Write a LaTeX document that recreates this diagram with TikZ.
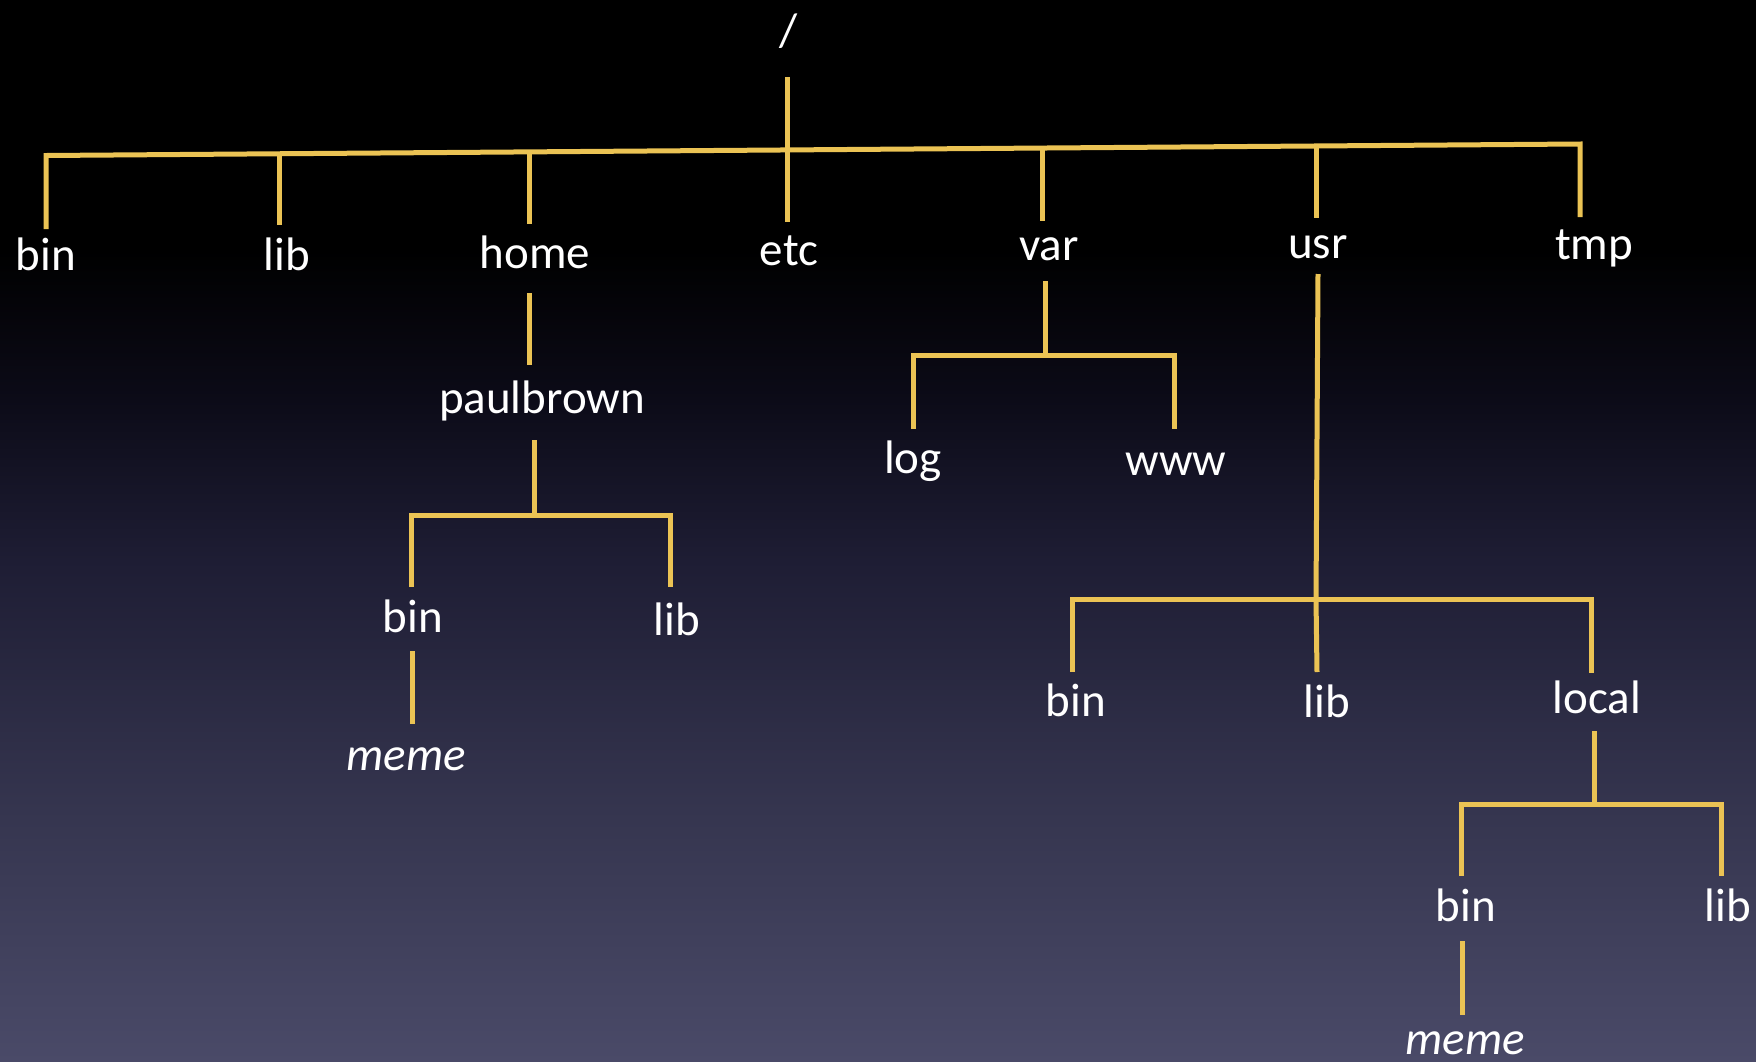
\documentclass[tikz,border=0pt]{standalone}
\usepackage{fontspec}
\setmainfont{Carlito}
\definecolor{linkyellow}{RGB}{235,195,84}
\definecolor{bgBottom}{RGB}{74,74,104}
\definecolor{bgLow}{RGB}{54,54,80}
\definecolor{bgMid}{RGB}{30,29,52}
\definecolor{bgHigh}{RGB}{12,11,24}
% background: black at the top, fading into slate blue at the bottom
\pgfdeclareverticalshading{bgshade}{100bp}{%
  color(0bp)=(bgBottom); color(25bp)=(bgBottom);
  color(36.36bp)=(bgLow); color(48.61bp)=(bgMid);
  color(56.15bp)=(bgHigh); color(63.22bp)=(black);
  color(100bp)=(black)}
\begin{document}
\begin{tikzpicture}[x=0.5pt,y=-0.5pt,
  lbl/.style={text=white,font=\fontsize{23.5}{28}\selectfont,inner sep=0pt,anchor=base},
  itlbl/.style={lbl,font=\fontsize{23.5}{28}\selectfont\itshape},
  link/.style={draw=linkyellow,line width=2.5pt,line join=miter,line cap=butt}]
\useasboundingbox (0,0) rectangle (1756,1061);
\shade[shading=bgshade] (0,0) rectangle (1756,1061);

% ---- labels ----
\node[text=white,font=\fontsize{23.5}{28}\selectfont,inner sep=0pt] (root) at (789,31) {/};

\node[lbl] (bin)  at (46,270)   {bin};
\node[lbl] (lib)  at (287,270)  {lib};
\node[lbl] (home) at (535,268)  {home};
\node[lbl] (etc)  at (789,265)  {etc};
\node[lbl] (var)  at (1049,260) {var};
\node[lbl] (usr)  at (1318,258) {usr};
\node[lbl] (tmp)  at (1594,259) {tmp};

\node[lbl] (paul) at (542,413) {paulbrown};
\node[lbl] (pbin) at (413,632) {bin};
\node[lbl] (plib) at (677,635) {lib};
\node[itlbl] (pmeme) at (406,770) {meme};

\node[lbl] (log) at (913,473)  {log};
\node[lbl] (www) at (1176,475) {www};

\node[lbl] (ubin)   at (1076,716) {bin};
\node[lbl] (ulib)   at (1327,717) {lib};
\node[lbl] (local)  at (1597,713) {local};
\node[lbl] (lbin)   at (1466,921) {bin};
\node[lbl] (llib)   at (1728,921) {lib};
\node[itlbl] (lmeme) at (1465,1054) {meme};

% ---- line end points ----
\coordinate (root-s) at (787.5,77);
\coordinate (j-bin)  at (46,155.5);  \coordinate (e-bin)  at (46,229);
\coordinate (j-lib)  at (279,153.3); \coordinate (e-lib)  at (279,225);
\coordinate (j-home) at (529,151.5); \coordinate (e-home) at (529,224);
\coordinate (j-etc)  at (787.5,149.7); \coordinate (e-etc) at (787.5,222);
\coordinate (j-var)  at (1042,148);  \coordinate (e-var)  at (1042,221);
\coordinate (j-usr)  at (1316,146);  \coordinate (e-usr)  at (1316,218);
\coordinate (j-tmp)  at (1580,144);  \coordinate (e-tmp)  at (1580,217);

\coordinate (home-s) at (529,293);   \coordinate (paul-n) at (529,365);
\coordinate (paul-s) at (534,440);   \coordinate (j-paul) at (534,515);
\coordinate (j-pbin) at (411,515);   \coordinate (e-pbin) at (411,587);
\coordinate (j-plib) at (670,515);   \coordinate (e-plib) at (670,587);
\coordinate (pbin-s) at (412,651);   \coordinate (pmeme-n) at (412,724);

\coordinate (var-s) at (1045,281);   \coordinate (j-varb) at (1045,355);
\coordinate (j-log) at (913,355);    \coordinate (e-log) at (913,429);
\coordinate (j-www) at (1174,355);   \coordinate (e-www) at (1174,429);

\coordinate (usr-s) at (1318,274);   \coordinate (j-usrb) at (1316,599);
\coordinate (j-ubin) at (1072,599);  \coordinate (e-ubin) at (1072,672);
\coordinate (e-ulib) at (1317,672);
\coordinate (j-loc) at (1591,599);   \coordinate (e-loc) at (1591,673);

\coordinate (local-s) at (1594,731); \coordinate (j-locb) at (1594,804);
\coordinate (j-lbin) at (1461,804);  \coordinate (e-lbin) at (1461,876);
\coordinate (j-llib) at (1721,804);  \coordinate (e-llib) at (1721,876);
\coordinate (lbin-s) at (1462,941);  \coordinate (lmeme-n) at (1462,1015);

% ---- connectors ----
% top level
\draw[link] (root-s) -- (j-etc);
\draw[link] (e-bin) -- (j-bin) -- (j-tmp) -- (e-tmp);
\foreach \d in {lib,home,etc,var,usr}
  \draw[link] (j-\d) -- (e-\d);

% home
\draw[link] (home-s) -- (paul-n);
\draw[link] (paul-s) -- (j-paul);
\draw[link] (e-pbin) -- (j-pbin) -- (j-plib) -- (e-plib);
\draw[link] (pbin-s) -- (pmeme-n);

% var
\draw[link] (var-s) -- (j-varb);
\draw[link] (e-log) -- (j-log) -- (j-www) -- (e-www);

% usr
\draw[link] (usr-s) -- (j-usrb) -- (e-ulib);
\draw[link] (e-ubin) -- (j-ubin) -- (j-loc) -- (e-loc);

% local
\draw[link] (local-s) -- (j-locb);
\draw[link] (e-lbin) -- (j-lbin) -- (j-llib) -- (e-llib);
\draw[link] (lbin-s) -- (lmeme-n);
\end{tikzpicture}
\end{document}
